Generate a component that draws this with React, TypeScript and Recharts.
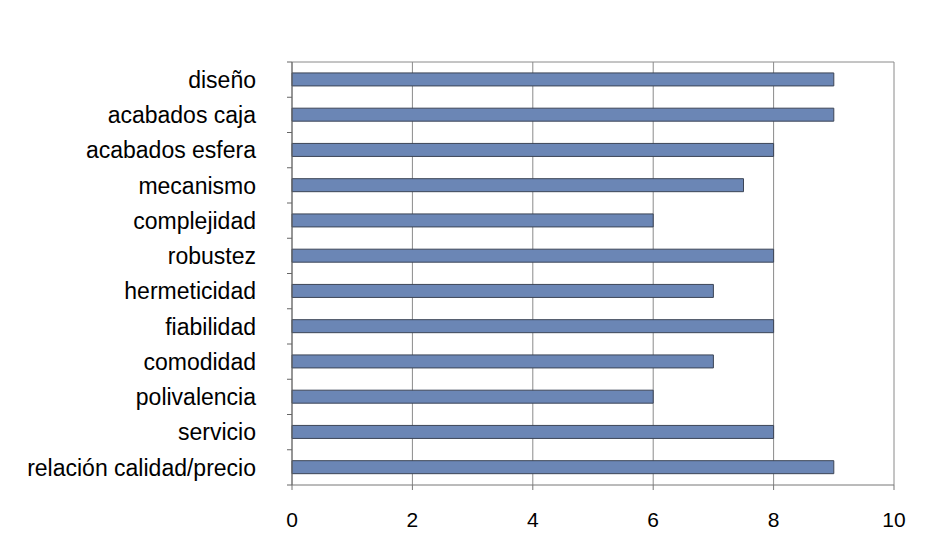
import { BarChart, Bar, XAxis, YAxis, CartesianGrid } from 'recharts';

const categories = [
  'diseño',
  'acabados caja',
  'acabados esfera',
  'mecanismo',
  'complejidad',
  'robustez',
  'hermeticidad',
  'fiabilidad',
  'comodidad',
  'polivalencia',
  'servicio',
  'relación calidad/precio',
];

const scores = [9, 9, 8, 7.5, 6, 8, 7, 8, 7, 6, 8, 9];

const xTicks = [0, 2, 4, 6, 8, 10];

const data = categories.map((name, i) => ({ name, value: scores[i] }));

const FONT = 'Liberation Sans, Arial, sans-serif';
const LABEL_GAP = 36;

// category label plus a small tick mark on each band boundary
const CategoryTick = (props: any) => {
  const { x, y, payload, index, visibleTicksCount } = props;
  const half = payload?.offset ?? 17.6;
  const ax = x + LABEL_GAP;
  const last = index === visibleTicksCount - 1;
  return (
    <g>
      <line x1={ax - 5} x2={ax} y1={y - half} y2={y - half} stroke="#666" />
      {last && <line x1={ax - 5} x2={ax} y1={y + half} y2={y + half} stroke="#666" />}
      <text
        x={x}
        y={y}
        dy="0.355em"
        textAnchor="end"
        fill="#000"
        fontSize={23}
        fontFamily={FONT}
      >
        {payload.value}
      </text>
    </g>
  );
};

const App = () => (
  <div style={{ marginLeft: -8, marginTop: -8, background: '#fff', width: 943, height: 557 }}>
    <BarChart
      width={943}
      height={557}
      data={data}
      layout="vertical"
      margin={{ top: 62, right: 49, bottom: 42, left: 0 }}
      barCategoryGap="31%"
    >
      <CartesianGrid
        stroke="#8a8a8a"
        strokeWidth={1}
        fill="#fff"
        horizontalCoordinatesGenerator={({ offset }: any) => [offset.top]}
      />
      <XAxis
        type="number"
        domain={[0, 10]}
        ticks={xTicks}
        height={30}
        stroke="#777"
        tickSize={5}
        tickMargin={22}
        tick={{ fill: '#000', fontSize: 21, fontFamily: FONT }}
      />
      <YAxis
        type="category"
        dataKey="name"
        width={292}
        stroke="#666"
        tickLine={false}
        tickSize={0}
        tickMargin={LABEL_GAP}
        interval={0}
        tick={<CategoryTick />}
      />
      <Bar
        dataKey="value"
        fill="#6b86b5"
        stroke="#3c4556"
        strokeWidth={1}
        isAnimationActive={false}
      />
    </BarChart>
  </div>
);

export default App;
